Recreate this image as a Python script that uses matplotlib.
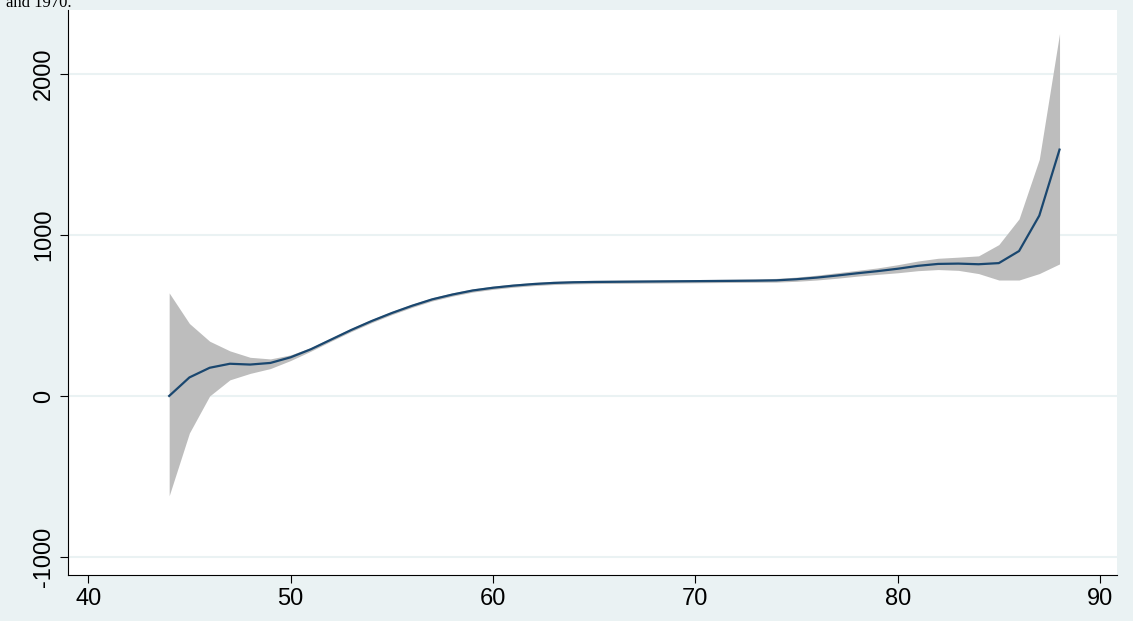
import matplotlib.pyplot as plt

age = list(range(44, 89))
mean = [0, 115, 175, 200, 195, 205, 240, 290, 350, 410, 465, 515, 560, 600, 630, 655,
        672, 685, 695, 702, 706, 708, 709, 710, 711, 712, 713, 714, 715, 716, 718,
        725, 735, 748, 762, 775, 790, 808, 820, 822, 818, 825, 900, 1120, 1530]
upper = [640, 450, 340, 280, 240, 230, 255, 300, 360, 420, 475, 525, 570, 610, 640, 665,
         682, 695, 705, 712, 716, 718, 719, 720, 721, 722, 723, 724, 725, 727, 730,
         738, 750, 765, 780, 795, 815, 838, 855, 862, 870, 940, 1100, 1470, 2250]
lower = [-620, -230, 0, 100, 140, 170, 220, 278, 340, 400, 455, 505, 550, 590, 620, 645,
         662, 675, 685, 692, 696, 698, 699, 700, 701, 702, 703, 704, 705, 706, 707,
         712, 720, 731, 744, 755, 765, 778, 785, 780, 760, 720, 720, 760, 820]

plt.rcParams['font.family'] = ['Liberation Sans', 'DejaVu Sans']
fig = plt.figure(figsize=(11.33, 6.21), dpi=100, facecolor='#eaf2f3')
ax = fig.add_axes([68/1133, 46/621, (1117-68)/1133, (575-10)/621])
ax.set_facecolor('white')
ax.fill_between(age, lower, upper, color='#bdbdbd', linewidth=0)
ax.plot(age, mean, color='#1a476f', linewidth=1.6)
ax.set_xlim(39.0, 90.84)
ax.set_ylim(-1112, 2397)
ax.set_xticks([40, 50, 60, 70, 80, 90])
ax.set_yticks([-1000, 0, 1000, 2000])
ax.set_yticklabels(['-1000', '0', '1000', '2000'], rotation=90, va='center')
ax.grid(axis='y', color='#eaf2f3', linewidth=1.5)
ax.set_axisbelow(True)
for s in ['top', 'right']:
    ax.spines[s].set_visible(False)
ax.tick_params(labelsize=17, length=6)
fig.text(0.005, 0.995, 'and 1970.', fontsize=12, va='center', family='Liberation Serif')
fig.savefig('out.png', dpi=100, facecolor=fig.get_facecolor())
